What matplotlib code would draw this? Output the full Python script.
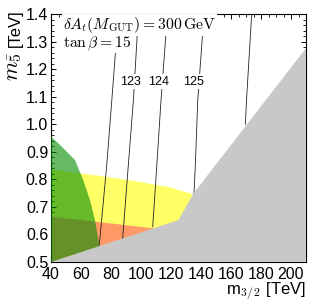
import numpy as np
import matplotlib
matplotlib.use("Agg")
import matplotlib.pyplot as plt
from matplotlib.ticker import MultipleLocator

plt.rcParams["font.family"] = ["Liberation Sans", "DejaVu Sans"]
plt.rcParams["mathtext.fontset"] = "cm"

# ---- data ----
# excluded (gray) region boundary
gray_x = [40, 124.9, 135.0, 210, 210]
gray_y = [0.50, 0.652, 0.749, 1.276, 0.50]

# yellow band (upper edge)
yellow_x = [40, 73, 100, 120, 137]
yellow_y = [0.836, 0.812, 0.790, 0.770, 0.742]

# orange band (upper edge)
orange_x = [40, 75, 112]
orange_y = [0.665, 0.643, 0.620]

# green region (right edge)
green_x = [40, 46, 56, 61.5, 66, 69.3, 72.2]
green_y = [0.955, 0.925, 0.870, 0.797, 0.725, 0.652, 0.562]

# Higgs mass contours
contours = {
    "122": ([84.9, 80.5, 77.1, 72.2], [1.40, 1.084, 0.848, 0.562]),
    "123": ([98.3, 94.9, 91.5, 87.7], [1.40, 1.084, 0.848, 0.580]),
    "124": ([117.6, 113.3, 110.5, 107.8], [1.40, 1.084, 0.848, 0.628]),
    "125": ([142.0, 137.8, 136.2, 135.3], [1.40, 1.084, 0.848, 0.745]),
    "126": ([173.8, 170.3, 169.6], [1.40, 1.084, 1.000]),
}
label_pos = {"123": (92.7, 1.155), "124": (111.5, 1.155), "125": (134.9, 1.155)}

fig = plt.figure(figsize=(3.12, 3.02), dpi=100)
ax = fig.add_axes([51 / 312, 1 - 262 / 302, 255 / 312, 248 / 302])

ax.fill(yellow_x + [yellow_x[-1], 40], yellow_y + [0.5, 0.5],
        color="#ffff66", lw=0, zorder=1)
ax.fill(orange_x + [orange_x[-1], 40], orange_y + [0.5, 0.5],
        color="#ff9966", lw=0, zorder=2)
ax.fill(green_x + [green_x[-1], 40], green_y + [0.5, 0.5],
        color="#008c00", alpha=0.6, lw=0, zorder=3)

for name, (cx, cy) in contours.items():
    ax.plot(cx, cy, color="#222222", lw=0.6, zorder=4)

for name, (lx, ly) in label_pos.items():
    ax.text(lx, ly, name, fontsize=9, ha="center", va="center", zorder=6,
            bbox=dict(facecolor="white", edgecolor="none", pad=1.0))

ax.fill(gray_x, gray_y, color="#c8c8c8", lw=0, zorder=5)

ax.text(48, 1.36, r"$\delta A_t(M_{\rm GUT}) = 300\,{\rm GeV}$", fontsize=11.3,
        ha="left", va="center", zorder=6,
        bbox=dict(facecolor="white", edgecolor="none", pad=0.5))
ax.text(48, 1.293, r"$\tan\beta = 15$", fontsize=11.3,
        ha="left", va="center", zorder=6,
        bbox=dict(facecolor="white", edgecolor="none", pad=0.5))

ax.set_xlim(40, 210)
ax.set_ylim(0.5, 1.4)
ax.xaxis.set_major_locator(MultipleLocator(20))
ax.xaxis.set_minor_locator(MultipleLocator(5))
ax.yaxis.set_major_locator(MultipleLocator(0.1))
ax.yaxis.set_minor_locator(MultipleLocator(0.02))
ax.tick_params(which="both", direction="in", top=True, right=True,
               labelsize=11.5)
ax.tick_params(axis="x", pad=3.5)
ax.tick_params(axis="y", pad=2)
ax.tick_params(which="major", length=3.5, width=0.7)
ax.tick_params(which="minor", length=2, width=0.6)
for s in ax.spines.values():
    s.set_linewidth(0.8)

ax.set_xlabel(r"m$_{\mathsf{3/\,2}}$ [TeV]", loc="right", fontsize=12, labelpad=-1)

# y label: large math symbol plus unit, stacked along the top of the axis
ax.text(-0.14, 0.944, "[TeV]", transform=ax.transAxes, rotation=90,
        fontsize=12, ha="center", va="center")
ax.text(-0.148, 0.79, r"$m_{\bar{5}}$", transform=ax.transAxes, rotation=90,
        fontsize=16, ha="center", va="center")

fig.savefig("out.png", dpi=100)
